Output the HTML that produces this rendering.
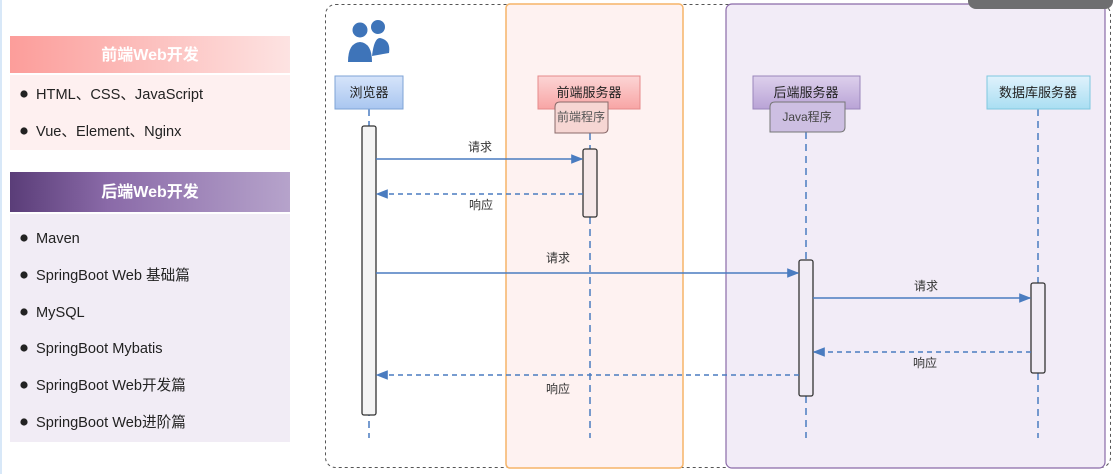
<!DOCTYPE html>
<html><head><meta charset="utf-8"><style>
html,body{margin:0;padding:0;background:#fff;width:1115px;height:474px;overflow:hidden;font-family:"Liberation Sans","Noto Sans CJK SC",sans-serif}
</style></head><body>
<svg width="1115" height="474" xmlns="http://www.w3.org/2000/svg" font-family="Liberation Sans, Noto Sans CJK SC, sans-serif">
<defs>
<linearGradient id="g1" x1="0" x2="1"><stop offset="0" stop-color="#fc9d9a"/><stop offset="1" stop-color="#fde3e2"/></linearGradient>
<linearGradient id="g2" x1="0" x2="1"><stop offset="0" stop-color="#5a3d78"/><stop offset="0.35" stop-color="#8a6aa8"/><stop offset="1" stop-color="#b6a3cb"/></linearGradient>
<linearGradient id="gb" x1="0" y1="0" x2="0" y2="1"><stop offset="0" stop-color="#d6e4fa"/><stop offset="1" stop-color="#a9c6f0"/></linearGradient>
<linearGradient id="gr" x1="0" y1="0" x2="0" y2="1"><stop offset="0" stop-color="#fcd5d5"/><stop offset="1" stop-color="#f8a5a5"/></linearGradient>
<linearGradient id="gp" x1="0" y1="0" x2="0" y2="1"><stop offset="0" stop-color="#ddd0ec"/><stop offset="1" stop-color="#b9a3d6"/></linearGradient>
<linearGradient id="gc" x1="0" y1="0" x2="0" y2="1"><stop offset="0" stop-color="#e0f2fc"/><stop offset="1" stop-color="#a9def2"/></linearGradient>
<marker id="a" viewBox="0 0 10 10" refX="9" refY="5" markerWidth="8" markerHeight="8" orient="auto"><path d="M0,1 L10,5 L0,9 z" fill="#4a7cc0"/></marker>
</defs>
<rect x="0" y="0" width="2" height="474" fill="#d8e8f8"/>
<rect x="10" y="36" width="280" height="37" fill="url(#g1)"/>
<text x="150" y="60" text-anchor="middle" font-size="16" font-weight="bold" fill="#fff">前端Web开发</text>
<rect x="10" y="75" width="280" height="75" fill="#fef0f0"/>
<rect x="10" y="172" width="280" height="40" fill="url(#g2)"/>
<text x="150" y="197" text-anchor="middle" font-size="16" font-weight="bold" fill="#fff">后端Web开发</text>
<rect x="10" y="214" width="280" height="228" fill="#f1ecf5"/>
<g font-size="14.6" fill="#222">
<g fill="#222"><circle cx="24" cy="94" r="3.6"/><circle cx="24" cy="131" r="3.6"/><circle cx="24" cy="238" r="3.6"/><circle cx="24" cy="275" r="3.6"/><circle cx="24" cy="312" r="3.6"/><circle cx="24" cy="348" r="3.6"/><circle cx="24" cy="385" r="3.6"/><circle cx="24" cy="422" r="3.6"/></g>
<text x="36" y="99">HTML、CSS、JavaScript</text>
<text x="36" y="136">Vue、Element、Nginx</text>
<text x="36" y="243">Maven</text>
<text x="36" y="280">SpringBoot Web 基础篇</text>
<text x="36" y="317">MySQL</text>
<text x="36" y="353">SpringBoot Mybatis</text>
<text x="36" y="390">SpringBoot Web开发篇</text>
<text x="36" y="427">SpringBoot Web进阶篇</text>
</g>
<rect x="325.5" y="4.5" width="785" height="463" rx="10" fill="none" stroke="#555" stroke-dasharray="3,3"/>
<rect x="506" y="4" width="177" height="464" rx="4" fill="#fef2f1" stroke="#f5b469" stroke-width="1.5"/>
<rect x="726" y="4" width="379" height="464" rx="6" fill="#f2ecf7" stroke="#8a6aa8" stroke-width="1.2"/>
<rect x="968" y="-10" width="145" height="19" rx="8" fill="#6e6e70"/>
<g fill="#3e74b9"><circle cx="360" cy="30" r="7.5"/><path d="M348,62 Q348,43 360,42 Q372,43 372,62 Z"/><circle cx="378" cy="27" r="7"/><path d="M372,56 Q374,38 380,38 Q391,40 389,53 Z"/></g>
<g stroke="#4a7cc0" stroke-width="1.5" stroke-dasharray="7,5"><line x1="369" y1="109" x2="369" y2="438"/><line x1="590" y1="133" x2="590" y2="438"/><line x1="806" y1="132" x2="806" y2="438"/><line x1="1038" y1="109" x2="1038" y2="438"/></g>
<rect x="335" y="76" width="68" height="33" fill="url(#gb)" stroke="#7ea3d6"/>
<text x="369" y="97" text-anchor="middle" font-size="13" fill="#222">浏览器</text>
<rect x="538" y="76" width="102" height="33" fill="url(#gr)" stroke="#e58a8a"/>
<text x="589" y="97" text-anchor="middle" font-size="13" fill="#222">前端服务器</text>
<path d="M560,102 H608 V128 Q608,133 603,133 H555 V107 Q555,102 560,102Z" fill="#f6d6d3" stroke="#8a6a6a"/>
<text x="581" y="121" text-anchor="middle" font-size="12" fill="#555">前端程序</text>
<rect x="753" y="76" width="107" height="33" fill="url(#gp)" stroke="#9a86bb"/>
<text x="806" y="97" text-anchor="middle" font-size="13" fill="#222">后端服务器</text>
<path d="M775,102 H845 V127 Q845,132 840,132 H770 V107 Q770,102 775,102Z" fill="#cdbfe2" stroke="#777"/>
<text x="807" y="121" text-anchor="middle" font-size="12" fill="#444">Java程序</text>
<rect x="987" y="76" width="103" height="33" fill="url(#gc)" stroke="#7fc7df"/>
<text x="1038" y="97" text-anchor="middle" font-size="13" fill="#222">数据库服务器</text>
<rect x="362" y="126" width="14" height="289" rx="2" fill="#f4f4f4" stroke="#333" stroke-width="1.3"/>
<rect x="583" y="149" width="14" height="68" rx="2" fill="#f6e8e8" stroke="#333" stroke-width="1.3"/>
<rect x="799" y="260" width="14" height="136" rx="2" fill="#f1ecf5" stroke="#333" stroke-width="1.3"/>
<rect x="1031" y="283" width="14" height="90" rx="2" fill="#f1ecf5" stroke="#333" stroke-width="1.3"/>
<g stroke="#4a7cc0" stroke-width="1.5" fill="none">
<line x1="376" y1="159" x2="582" y2="159" marker-end="url(#a)"/>
<line x1="583" y1="194" x2="377" y2="194" stroke-dasharray="5,4" marker-end="url(#a)"/>
<line x1="376" y1="273" x2="798" y2="273" marker-end="url(#a)"/>
<line x1="813" y1="298" x2="1030" y2="298" marker-end="url(#a)"/>
<line x1="1031" y1="352" x2="814" y2="352" stroke-dasharray="5,4" marker-end="url(#a)"/>
<line x1="799" y1="375" x2="377" y2="375" stroke-dasharray="5,4" marker-end="url(#a)"/>
</g>
<g font-size="12" fill="#333" text-anchor="middle">
<text x="480" y="151">请求</text>
<text x="481" y="209">响应</text>
<text x="558" y="262">请求</text>
<text x="926" y="290">请求</text>
<text x="925" y="367">响应</text>
<text x="558" y="393">响应</text>
</g>
</svg>
</body></html>
